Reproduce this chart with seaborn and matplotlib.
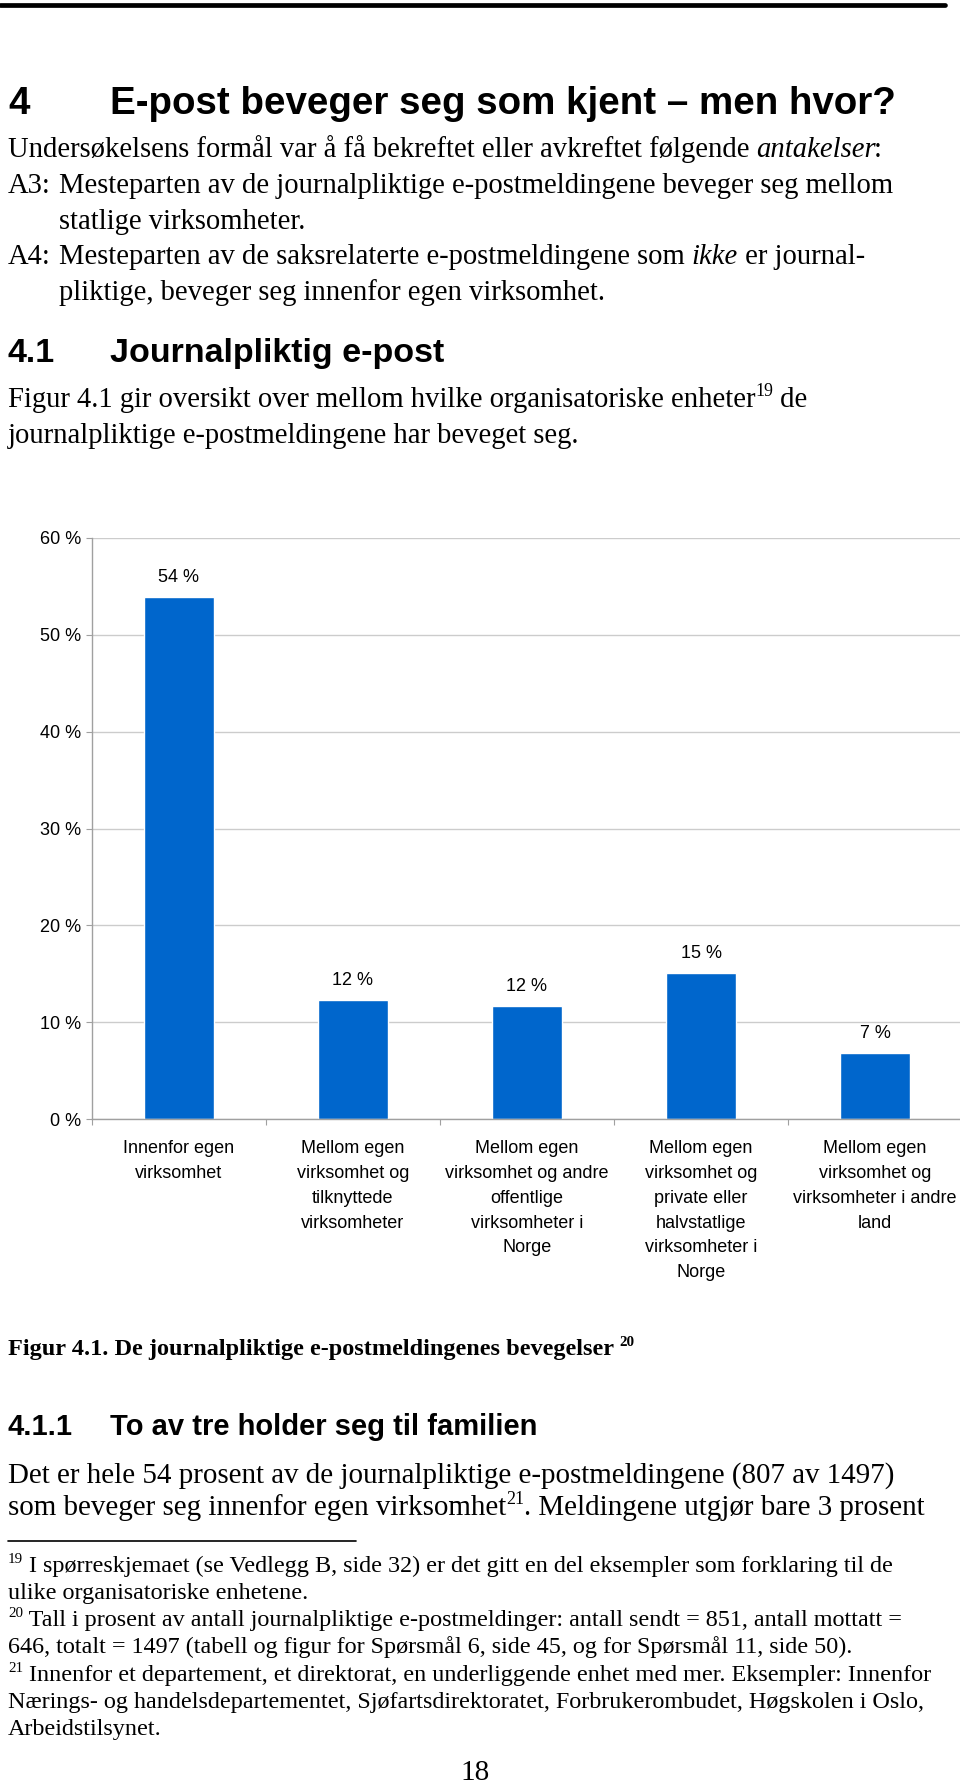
import matplotlib
matplotlib.use("Agg")
import matplotlib.pyplot as plt
import seaborn as sns
import numpy as np

W, H = 960, 1785

categories = [
    "Innenfor egen\nvirksomhet",
    "Mellom egen\nvirksomhet og\ntilknyttede\nvirksomheter",
    "Mellom egen\nvirksomhet og andre\noffentlige\nvirksomheter i\nNorge",
    "Mellom egen\nvirksomhet og\nprivate eller\nhalvstatlige\nvirksomheter i\nNorge",
    "Mellom egen\nvirksomhet og\nvirksomheter i andre\nland",
]
shares = [53.9, 12.3, 11.7, 15.1, 6.8]
y_ticks = [0, 10, 20, 30, 40, 50, 60]

BLUE = "#0066CC"
SERIF = "Liberation Serif"
SANS = "Liberation Sans"

sns.set_theme(style="white")
plt.rcParams["font.family"] = [SANS, "DejaVu Sans"]
plt.rcParams["text.color"] = "black"

fig = plt.figure(figsize=(W / 100, H / 100), dpi=100)
renderer = fig.canvas.get_renderer()


def fx(x):
    return x / W


def fy(y):
    return 1 - y / H


def text_width(s, **kw):
    t = fig.text(0, 0, "|" + s + "|", **kw)
    w = t.get_window_extent(renderer).width
    t.remove()
    t = fig.text(0, 0, "||", **kw)
    w0 = t.get_window_extent(renderer).width
    t.remove()
    return w - w0


def runs(x, y, parts, size, family=SERIF):
    # parts: (text, style); style may hold weight / style / sup / dx
    for s, st in parts:
        st = dict(st)
        sup = st.pop("sup", False)
        x += st.pop("dx", 0)
        kw = dict(family=family, fontsize=size * (0.62 if sup else 1.0), **st)
        yy = y - (size * 1.389 * 0.38 if sup else 0)
        fig.text(fx(x), fy(yy), s, va="baseline", ha="left", color="black", **kw)
        x += text_width(s, **kw)


def heading(y, num, title, size):
    fig.text(fx(8), fy(y), num, family=SANS, weight="bold", fontsize=size,
             va="baseline", color="black")
    fig.text(fx(110), fy(y), title, family=SANS, weight="bold", fontsize=size,
             va="baseline", color="black")


# top rule
fig.add_artist(plt.Line2D([0, fx(945)], [fy(5), fy(5)], color="black", lw=3.4))

heading(114, "4", "E-post beveger seg som kjent \u2013 men hvor?", 27.7)

B1 = 20.6
runs(8, 157, [("Undersøkelsens formål var å få bekreftet eller avkreftet følgende ", {}),
              ("antakelser", {"style": "italic"}), (":", {"dx": -3})], B1)
runs(8, 193, [("A3:", {})], B1)
runs(59, 193, [("Mesteparten av de journalpliktige e-postmeldingene beveger seg mellom", {})], B1)
runs(59, 229, [("statlige virksomheter.", {})], B1)
runs(8, 264, [("A4:", {})], B1)
runs(59, 264, [("Mesteparten av de saksrelaterte e-postmeldingene som ", {}),
               ("ikke", {"style": "italic"}), (" er journal-", {})], B1)
runs(59, 300, [("pliktige, beveger seg innenfor egen virksomhet.", {})], B1)

heading(362, "4.1", "Journalpliktig e-post", 24.5)

runs(8, 407, [("Figur 4.1 gir oversikt over mellom hvilke organisatoriske enheter", {}),
              ("19", {"sup": True}), (" de", {})], B1)
runs(8, 443, [("journalpliktige e-postmeldingene har beveget seg.", {})], B1)

# chart
top, bottom = 537.7, 1119.3
ax = fig.add_axes([fx(92), fy(bottom), 870 / W, (bottom - top) / H])
sns.barplot(x=list(range(len(shares))), y=shares, color=BLUE, saturation=1,
            width=0.4, ax=ax)
ax.set_ylim(0, 60)
ax.set_xlim(-0.5, len(shares) - 0.5)
ax.set_yticks(y_ticks)
ax.set_yticklabels([f"{v} %" for v in y_ticks], fontsize=13, family=SANS, color="black")
ax.set_xticks(range(len(categories)))
ax.set_xticklabels(categories, fontsize=13, family=SANS, color="black",
                   linespacing=1.6, va="top")
ax.set_xticks(np.arange(-0.5, len(categories) - 1, 1.0), minor=True)
ax.tick_params(axis="x", which="major", length=0, pad=15)
ax.tick_params(axis="x", which="minor", length=4.5, width=0.8, color="#a0a0a0",
               direction="out", bottom=True)
ax.tick_params(axis="y", which="major", length=4, width=0.8, color="#a0a0a0",
               direction="out", left=True, pad=4)
ax.yaxis.grid(True, color="#cccccc", lw=1.0)
ax.xaxis.grid(False)
ax.set_axisbelow(True)
for side in ("top", "right"):
    ax.spines[side].set_visible(False)
for side in ("left", "bottom"):
    ax.spines[side].set_color("#a0a0a0")
    ax.spines[side].set_linewidth(1.0)
ax.set_xlabel("")
ax.set_ylabel("")
ax.bar_label(ax.containers[0], labels=[f"{round(v)} %" for v in shares],
             padding=8, fontsize=13, family=SANS, color="black")

# caption
runs(8, 1355, [("Figur 4.1. De journalpliktige e-postmeldingenes bevegelser ", {"weight": "bold"}),
               ("20", {"weight": "bold", "sup": True})], 17.5)

heading(1435, "4.1.1", "To av tre holder seg til familien", 21)

B2 = 20.9
runs(8, 1483, [("Det er hele 54 prosent av de journalpliktige e-postmeldingene (807 av 1497)", {})], B2)
runs(8, 1515, [("som beveger seg innenfor egen virksomhet", {}), ("21", {"sup": True}),
               (". Meldingene utgjør bare 3 prosent", {})], B2)

fig.add_artist(plt.Line2D([fx(8), fx(356)], [fy(1541), fy(1541)], color="black", lw=1.2))

FN = 17.4
runs(8, 1572, [("19", {"sup": True}),
               (" I spørreskjemaet (se Vedlegg B, side 32) er det gitt en del eksempler som forklaring til de", {})], FN)
runs(8, 1599, [("ulike organisatoriske enhetene.", {})], FN)
runs(8, 1626, [("20", {"sup": True}),
               (" Tall i prosent av antall journalpliktige e-postmeldinger: antall sendt = 851, antall mottatt =", {})], FN)
runs(8, 1653, [("646, totalt = 1497 (tabell og figur for Spørsmål 6, side 45, og for Spørsmål 11, side 50).", {})], FN)
runs(8, 1681, [("21", {"sup": True}),
               (" Innenfor et departement, et direktorat, en underliggende enhet med mer. Eksempler: Innenfor", {})], FN)
runs(8, 1708, [("Nærings- og handelsdepartementet, Sjøfartsdirektoratet, Forbrukerombudet, Høgskolen i Oslo,", {})], FN)
runs(8, 1735, [("Arbeidstilsynet.", {})], FN)

fig.text(fx(475), fy(1780), "18", family=SERIF, fontsize=21, ha="center",
         va="baseline", color="black")

fig.savefig("out.png", dpi=100, facecolor="white")
